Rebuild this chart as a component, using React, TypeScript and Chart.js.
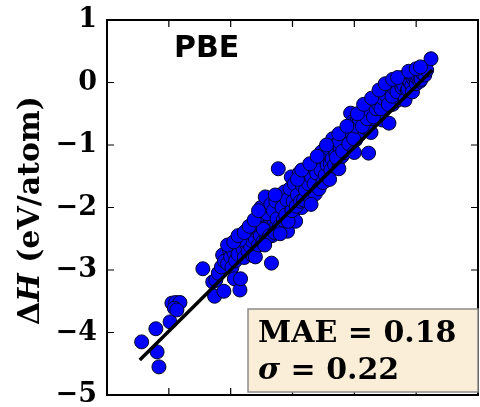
import { useEffect, useRef } from 'react';
import { Chart, registerables } from 'chart.js';

Chart.register(...registerables);

// Reference (x) and PBE (y) formation enthalpies, eV/atom
const expH = [
  -4.44, -4.21, -4.19, -4.16, -3.98, -3.95, -3.89, -3.82, -3.91, -3.87,
  -3.45, -3.29, -3.26, -3.11, -3.24, -3.2, -3.15, -3.13, -3.1, -3.05,
  -3.02, -3.0, -2.98, -2.95, -2.94, -2.92, -2.9, -2.88, -2.85, -2.84,
  -2.82, -2.8, -2.78, -2.75, -2.72, -2.7, -2.68, -2.66, -2.64, -2.6,
  -2.6, -2.58, -2.55, -2.52, -2.5, -2.48, -2.46, -2.44, -2.42, -2.4,
  -2.38, -2.36, -2.34, -2.33, -2.3, -2.28, -2.26, -2.24, -2.23, -2.22,
  -2.2, -2.18, -2.16, -2.14, -2.12, -2.1, -2.08, -2.06, -2.05, -2.03,
  -2.0, -1.98, -1.96, -1.95, -1.93, -1.9, -1.88, -1.86, -1.85, -1.83,
  -1.8, -1.78, -1.76, -1.75, -1.72, -1.7, -1.68, -1.66, -1.64, -1.62,
  -1.6, -1.58, -1.56, -1.55, -1.53, -1.52, -1.5, -1.48, -1.46, -1.45,
  -2.85, -2.74, -2.65, -2.57, -2.54, -2.51, -2.47, -2.44, -2.41, -2.37,
  -2.35, -2.31, -2.29, -2.27, -2.25, -2.21, -2.19, -2.17, -2.15, -2.13,
  -2.11, -2.09, -2.07, -2.04, -2.02, -2.01, -1.99, -1.97, -1.94, -1.92,
  -1.89, -1.87, -1.84, -1.82, -1.79, -1.77, -1.74, -1.71, -1.69, -1.67,
  -1.65, -1.63, -1.61, -1.59, -1.57, -1.54, -1.51, -1.49, -1.47, -1.44,
  -1.42, -1.39, -1.37,
  -1.38, -1.36, -1.35, -1.33, -1.32, -1.3, -1.28, -1.26, -1.25, -1.23,
  -1.21, -1.2, -1.18, -1.16, -1.15, -1.13, -1.11, -1.1, -1.08, -1.06,
  -1.05, -1.04, -1.03, -1.02, -1.0, -0.98, -0.96, -0.95, -0.93, -0.91,
  -0.9, -0.88, -0.86, -0.85, -0.83, -0.81, -0.8, -0.78, -0.77, -0.76,
  -0.75, -0.73, -0.71, -0.7, -0.68, -0.66, -0.64, -0.62, -0.6, -0.58,
  -0.56, -0.55, -0.53, -0.51, -0.5, -0.48, -0.47, -0.46, -0.44, -0.43,
  -0.41, -0.4, -0.38, -0.36, -0.34, -0.32, -0.3, -0.28, -0.26, -0.24,
  -0.22,
  -1.29, -1.24, -1.19, -1.14, -1.09, -1.01, -0.97, -0.92, -0.87, -0.82,
  -0.79, -0.74, -0.69, -0.65, -0.61, -0.57, -0.54, -0.49, -0.45, -0.42,
  -0.39, -0.35, -0.31, -0.27, -0.23,
  -0.2, -0.18, -0.17, -0.16, -0.15, -0.14, -0.13, -0.11, -0.1, -0.08,
  -0.07, -0.06, -0.04, -0.03, -0.02, 0.0, 0.01, 0.03, 0.05, 0.06,
  0.08, 0.1, 0.11, 0.14, 0.17, 0.24,
  -3.05, -2.95, -2.88, -2.78, -2.7, -2.62, -2.55, -2.28, -1.92, -1.85,
  -1.72, -1.6, -1.45, -1.25, -1.12, -0.95, -0.85, -0.72, -0.6, -0.5,
  -0.38, -0.3, -0.12, 0.0, 0.07, -1.7, -1.4, -1.0, -2.45, -2.2,
];

const pbeH = [
  -4.15, -3.94, -4.31, -4.55, -3.83, -3.53, -3.52, -3.52, -3.61, -3.64,
  -2.98, -3.19, -3.42, -3.34, -3.16, -3.05, -2.95, -2.76, -2.86, -2.9,
  -2.68, -2.79, -2.96, -2.72, -3.14, -2.85, -2.62, -2.75, -3.32, -3.14,
  -2.52, -2.66, -2.8, -2.58, -2.7, -2.45, -2.62, -2.53, -2.77, -2.79,
  -2.5, -2.38, -2.6, -2.45, -2.31, -2.55, -2.2, -2.4, -2.5, -2.28,
  -2.15, -2.35, -2.89, -2.45, -2.2, -2.05, -2.3, -2.4, -1.38, -2.15,
  -1.98, -2.25, -2.1, -1.9, -2.33, -2.02, -2.38, -1.85, -2.12, -1.95,
  -1.75, -2.05, -1.88, -2.22, -1.7, -1.95, -1.8, -1.62, -2.0, -1.75,
  -1.55, -1.85, -1.68, -1.5, -1.78, -1.6, -1.45, -1.7, -1.55, -1.38,
  -1.62, -1.48, -1.3, -1.55, -1.11, -1.42, -1.25, -1.58, -1.35, -1.2,
  -2.52, -2.36, -2.28, -2.25, -2.12, -2.0, -2.35, -1.83, -2.1, -2.45,
  -1.95, -2.05, -2.4, -1.9, -2.18, -2.3, -1.82, -2.0, -2.2, -1.75,
  -2.12, -1.88, -2.22, -1.7, -1.51, -2.05, -1.9, -1.62, -1.98, -1.8,
  -1.45, -1.9, -1.65, -1.88, -1.72, -1.4, -1.62, -1.85, -1.52, -1.35,
  -1.62, -1.78, -1.45, -1.25, -1.7, -1.4, -1.6, -1.15, -1.48, -1.32,
  -1.05, -1.3, -0.97,
  -1.4, -1.22, -0.9, -1.05, -1.32, -1.15, -0.98, -1.25, -1.38, -1.08,
  -0.92, -1.18, -1.02, -0.85, -1.12, -0.95, -0.78, -1.05, -0.88, -0.49,
  -0.72, -0.98, -0.63, -0.82, -0.65, -0.92, -0.75, -0.6, -0.85, -0.68,
  -0.52, -0.78, -0.62, -0.45, -0.72, -0.55, -0.4, -0.65, -1.13, -0.39,
  -0.5, -0.8, -0.58, -0.42, -0.3, -0.52, -0.36, -0.25, -0.45, -0.3,
  -0.18, -0.6, -0.38, -0.22, -0.1, -0.32, -0.33, -0.15, -0.65, -0.05,
  -0.25, -0.08, -0.35, 0.0, -0.18, -0.02, -0.28, 0.05, -0.12, -0.2,
  0.08,
  -1.2, -0.95, -1.1, -0.82, -0.98, -0.9, -0.7, -0.58, -0.7, -0.48,
  -0.58, -0.45, -0.55, -0.42, -0.35, -0.42, -0.25, -0.2, -0.35, -0.12,
  -0.22, -0.1, -0.15, 0.0, -0.08,
  -0.05, -0.28, 0.09, 0.1, 0.07, -0.12, -0.1, 0.02, 0.0, 0.12,
  -0.05, -0.15, 0.05, 0.1, 0.15, -0.02, 0.08, 0.1, 0.2, 0.02,
  0.05, 0.15, 0.23, 0.12, 0.2, 0.38,
  -2.6, -2.55, -2.45, -2.4, -2.3, -2.2, -2.05, -1.8, -1.55, -1.4,
  -1.3, -1.18, -1.0, -0.82, -0.7, -0.5, -0.35, -0.25, -0.12, -0.02,
  0.05, 0.08, 0.18, 0.22, 0.25, -1.95, -1.55, -1.12, -2.6, -2.42,
];

// Linear fit line end points
const fitX = [-4.47, 0.26];
const fitY = [-4.44, 0.2];

const yTicks = [-5, -4, -3, -2, -1, 0, 1];
const xTicks = [-4, -3, -2, -1, 0, 1];
const axisMin = -5;
const axisMax = 1;

const panelLabel = 'PBE';
const maeLine = 'MAE = 0.18';
const sigmaSymbol = 'σ';
const sigmaRest = ' = 0.22';
const titleDelta = 'Δ';
const titleH = 'H';
const titleUnit = ' (eV/atom)';

const fmt = (v: number) => (v < 0 ? '\u2212' + Math.abs(v) : String(v));

export default function App() {
  const ref = useRef<HTMLCanvasElement>(null);

  useEffect(() => {
    const canvas = ref.current;
    if (!canvas) return;

    const decor = {
      id: 'decor',
      afterDraw(chart: any) {
        const { ctx, chartArea } = chart;
        const { left, right, top, bottom } = chartArea;
        const xs = chart.scales.x;
        const ys = chart.scales.y;
        ctx.save();

        // inward tick marks
        ctx.strokeStyle = '#000';
        ctx.lineWidth = 1.2;
        const tl = 7;
        ctx.beginPath();
        for (const v of yTicks) {
          const p = ys.getPixelForValue(v);
          ctx.moveTo(left, p);
          ctx.lineTo(left + tl, p);
          ctx.moveTo(right, p);
          ctx.lineTo(right - tl, p);
        }
        for (const v of xTicks) {
          const p = xs.getPixelForValue(v);
          if (p <= left + 1 || p >= right - 1) continue;
          ctx.moveTo(p, top);
          ctx.lineTo(p, top + tl);
          ctx.moveTo(p, bottom);
          ctx.lineTo(p, bottom - tl);
        }
        ctx.stroke();

        // frame
        ctx.lineWidth = 2;
        ctx.strokeRect(left, top, right - left, bottom - top);

        // panel label
        ctx.fillStyle = '#000';
        ctx.textBaseline = 'alphabetic';
        ctx.textAlign = 'left';
        ctx.font = 'bold 30px "DejaVu Sans"';
        ctx.fillText(panelLabel, left + 67, top + 37);

        // stats box
        const bx = left + 141;
        const by = top + 289;
        const bw = 230;
        const bh = 83;
        ctx.fillStyle = 'rgb(250,238,217)';
        ctx.fillRect(bx, by, bw, bh);
        ctx.strokeStyle = '#8c8c8c';
        ctx.lineWidth = 1.5;
        ctx.strokeRect(bx, by, bw, bh);
        ctx.fillStyle = '#000';
        ctx.font = 'bold 30px "DejaVu Serif"';
        ctx.fillText(maeLine, bx + 10, by + 33, 212);
        ctx.font = 'italic bold 30px "DejaVu Serif"';
        ctx.fillText(sigmaSymbol, bx + 10, by + 70);
        const sw = ctx.measureText(sigmaSymbol).width;
        ctx.font = 'bold 30px "DejaVu Serif"';
        ctx.fillText(sigmaRest, bx + 10 + sw, by + 70);

        // y-axis title
        const fBold = 'bold 30px "DejaVu Serif"';
        const fIt = 'italic bold 30px "DejaVu Serif"';
        ctx.font = fBold;
        const w1 = ctx.measureText(titleDelta).width;
        const w3 = ctx.measureText(titleUnit).width;
        ctx.font = fIt;
        const w2 = ctx.measureText(titleH).width;
        const total = w1 + w2 + w3;
        ctx.translate(39, (top + bottom) / 2 + 3);
        ctx.rotate(-Math.PI / 2);
        let cx = -total / 2;
        ctx.font = fBold;
        ctx.fillText(titleDelta, cx, 0);
        cx += w1;
        ctx.font = fIt;
        ctx.fillText(titleH, cx, 0);
        cx += w2;
        ctx.font = fBold;
        ctx.fillText(titleUnit, cx, 0);

        ctx.restore();
      },
    };

    const chart = new Chart(canvas, {
      type: 'scatter',
      data: {
        datasets: [
          {
            type: 'line',
            data: fitX.map((x, i) => ({ x, y: fitY[i] })),
            borderColor: '#000',
            borderWidth: 3.5,
            pointRadius: 0,
            fill: false,
            order: 0,
          } as any,
          {
            type: 'scatter',
            data: expH.map((x, i) => ({ x, y: pbeH[i] })),
            backgroundColor: '#0000ff',
            borderColor: '#000028',
            borderWidth: 1,
            pointRadius: 7,
            order: 1,
          },
        ],
      },
      options: {
        responsive: false,
        animation: false,
        events: [],
        layout: { padding: { top: 20, right: 3, left: 0, bottom: 0 } },
        plugins: { legend: { display: false }, tooltip: { enabled: false } },
        scales: {
          x: {
            type: 'linear',
            min: axisMin,
            max: axisMax,
            grid: { display: false, drawTicks: false },
            border: { display: false },
            ticks: { display: false },
            afterFit: (s: any) => {
              s.height = 12;
              s.paddingLeft = 0;
              s.paddingRight = 0;
            },
          },
          y: {
            type: 'linear',
            min: axisMin,
            max: axisMax,
            grid: { display: false, drawTicks: false },
            border: { display: false },
            afterBuildTicks: (s: any) => {
              s.ticks = yTicks.map((v) => ({ value: v }));
            },
            ticks: {
              padding: 10,
              color: '#000',
              font: { family: '"DejaVu Serif"', weight: 'bold', size: 27 },
              callback: (v: any) => fmt(Number(v)),
            },
            afterFit: (s: any) => {
              s.width = 107;
              s.paddingTop = 0;
              s.paddingBottom = 0;
            },
          },
        },
      } as any,
      plugins: [decor],
    });

    return () => chart.destroy();
  }, []);

  return (
    <div
      style={{
        position: 'fixed',
        left: 0,
        top: 0,
        width: 480,
        height: 407,
        overflow: 'hidden',
        background: '#fff',
      }}
    >
      <canvas ref={ref} width={486} height={407} style={{ width: 486, height: 407, display: 'block' }} />
    </div>
  );
}
